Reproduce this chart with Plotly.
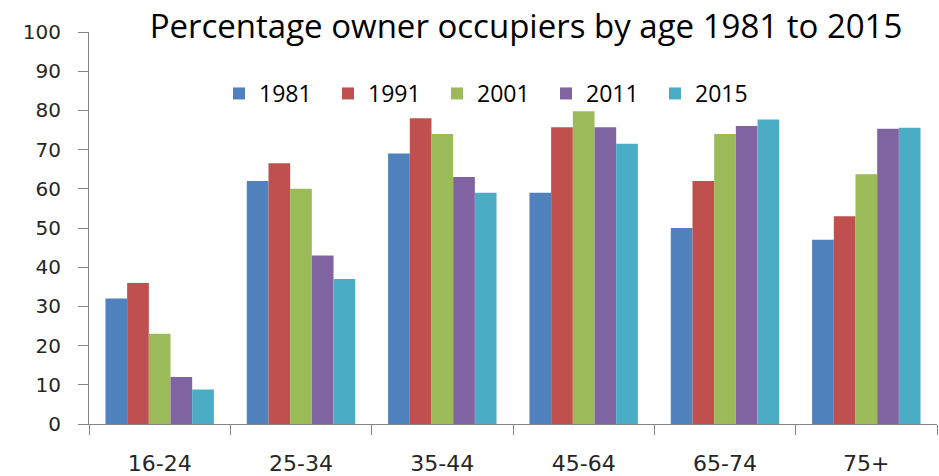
import plotly.graph_objects as go

categories = ["16-24", "25-34", "35-44", "45-64", "65-74", "75+"]
years = ["1981", "1991", "2001", "2011", "2015"]
v1981 = [32, 62, 69, 59, 50, 47]
v1991 = [36, 66.5, 78, 75.7, 62, 53]
v2001 = [23, 60, 74, 79.8, 74, 63.7]
v2011 = [12, 43, 63, 75.7, 76, 75.3]
v2015 = [8.8, 37, 59, 71.5, 77.7, 75.6]
y_ticks = [0, 10, 20, 30, 40, 50, 60, 70, 80, 90, 100]

series = [v1981, v1991, v2001, v2011, v2015]
colors = ["#4F81BD", "#C0504D", "#9BBB59", "#8064A2", "#4BACC6"]

fig = go.Figure()
for name, vals, col in zip(years, series, colors):
    fig.add_trace(go.Bar(x=categories, y=vals, name=name, marker=dict(color=col, line=dict(width=0))))

W, H = 939, 476
fig.update_layout(
    width=W, height=H,
    margin=dict(l=89, r=2, t=32, b=52, autoexpand=False),
    paper_bgcolor="white", plot_bgcolor="white",
    barmode="group", bargap=0.233, bargroupgap=0,
    title=dict(text="Percentage owner occupiers by age 1981 to 2015",
               font=dict(family="Open Sans", size=33, color="#000000"),
               xref="container", x=526 / W, xanchor="center",
               yref="container", y=1 - 26 / H, yanchor="middle"),
    legend=dict(orientation="h", x=(219 - 89) / 848, xanchor="left",
                y=(423.5 - 93) / 392, yanchor="middle", yref="paper",
                font=dict(family="Open Sans", size=23, color="#000000"),
                entrywidth=64, bgcolor="rgba(0,0,0,0)"),
    showlegend=True,
)
fig.update_xaxes(showline=True, linecolor="#868686", linewidth=1,
                 ticks="outside", tickson="boundaries", ticklen=10, tickcolor="#868686",
                 tickfont=dict(family="DejaVu Sans", size=22, color="#262626"),
                 ticklabelstandoff=20, showgrid=False, automargin=False)
fig.update_yaxes(range=[0, 100], tickvals=y_ticks, showline=True, linecolor="#868686", linewidth=1,
                 ticks="outside", ticklen=10, tickcolor="#868686",
                 tickfont=dict(family="DejaVu Sans", size=20, color="#262626"),
                 ticklabelstandoff=13, showgrid=False, zeroline=False, automargin=False)

fig.write_html("out.html", config={"displayModeBar": False},
               post_script="document.body.style.margin='0';")
